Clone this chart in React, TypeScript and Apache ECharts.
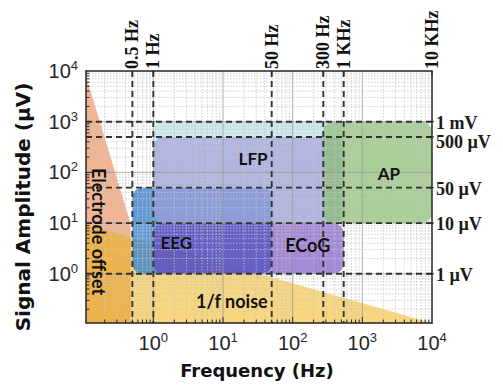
import { useEffect, useRef } from "react";
import * as echarts from "echarts";

// axis ranges (Hz / µV)
const X_MIN = 0.108;
const X_MAX = 10000;
const Y_MIN = 0.107;
const Y_MAX = 10000;

// grid structure
const xDecades = [0.1, 1, 10, 100, 1000, 10000];
const yDecades = [0.1, 1, 10, 100, 1000, 10000];
const minorSteps = [2, 3, 4, 5, 6, 7, 8, 9];

// reference lines
const refFreqs = [0.5, 1, 50, 275, 540, 10000];
const refFreqLabels = ["0.5 Hz", "1 Hz", "50 Hz", "300 Hz", "1 KHz", "10 KHz"];
const refAmps = [1000, 500, 50, 10, 1];
const refAmpLabels = ["1 mV", "500 µV", "50 µV", "10 µV", "1 µV"];

// signal bands (drawn in this order)
const bandNames = ["LFP upper", "EEG", "LFP", "ECoG", "AP"];
const bandFreqFrom = [1, 0.5, 1, 1, 275];
const bandFreqTo = [540, 50, 540, 540, 10000];
const bandAmpFrom = [10, 1, 10, 1, 10];
const bandAmpTo = [1000, 50, 500, 10, 1000];
const bandColors = [
  "rgba(190,228,232,0.75)",
  "rgba(55,130,205,0.8)",
  "rgba(165,160,220,0.7)",
  "rgba(107,58,187,0.6)",
  "rgba(140,190,115,0.75)",
];

// noise areas
const offsetFreqs = [X_MIN, 0.47, 0.47, X_MIN];
const offsetAmps = [8000, 10, Y_MIN, Y_MIN];
const noiseFreqs = [X_MIN, X_MAX, X_MIN];
const noiseAmps = [9.4, Y_MIN, Y_MIN];
const areaColors = { offset: "#F1B593", noise: "#F8D680", overlap: "#EEB24A" };

// region labels
const labelTexts = ["LFP", "AP", "EEG", "ECoG", "1/f noise", "Electrode offset"];
const labelFreqs = [27, 2400, 2.14, 165, 13.4, 0.165];
const labelAmps = [192, 95, 4.05, 3.65, 0.29, 6.8];
const labelSizes = [17, 17, 17, 18, 18, 18];

const isPow10 = (v: number) => {
  const l = Math.log10(v);
  return Math.abs(l - Math.round(l)) < 1e-6;
};

function clipPolygon(subject: number[][], clip: number[][]) {
  let area = 0;
  for (let i = 0; i < clip.length; i++) {
    const p = clip[i], q = clip[(i + 1) % clip.length];
    area += p[0] * q[1] - q[0] * p[1];
  }
  const sign = area > 0 ? 1 : -1;
  let output = subject;
  for (let i = 0; i < clip.length; i++) {
    const a = clip[i], b = clip[(i + 1) % clip.length];
    const input = output;
    output = [];
    if (!input.length) break;
    const inside = (p: number[]) =>
      sign * ((b[0] - a[0]) * (p[1] - a[1]) - (b[1] - a[1]) * (p[0] - a[0])) >= 0;
    const inter = (p: number[], q: number[]) => {
      const dx1 = q[0] - p[0], dy1 = q[1] - p[1];
      const dx2 = b[0] - a[0], dy2 = b[1] - a[1];
      const den = dx1 * dy2 - dy1 * dx2;
      const t = ((a[0] - p[0]) * dy2 - (a[1] - p[1]) * dx2) / den;
      return [p[0] + t * dx1, p[1] + t * dy1];
    };
    for (let j = 0; j < input.length; j++) {
      const cur = input[j];
      const prev = input[(j + input.length - 1) % input.length];
      const cin = inside(cur), pin = inside(prev);
      if (cin) {
        if (!pin) output.push(inter(prev, cur));
        output.push(cur);
      } else if (pin) {
        output.push(inter(prev, cur));
      }
    }
  }
  return output;
}

const tickRich = {
  b: { fontSize: 20, lineHeight: 24, fontFamily: "Liberation Sans", color: "#262626" },
  s: { fontSize: 13, lineHeight: 15, verticalAlign: "top", fontFamily: "Liberation Sans", color: "#262626" },
};
const powLabel = (v: number) =>
  isPow10(v) ? `{b|10}{s|${Math.round(Math.log10(v))}}` : "";

export default function App() {
  const ref = useRef<HTMLDivElement>(null);
  useEffect(() => {
    if (!ref.current) return;
    const chart = echarts.init(ref.current, null, { renderer: "svg" });

    const renderAreas = (_p: any, api: any) => {
      const pt = (f: number, a: number) => api.coord([f, a]);
      const offset = offsetFreqs.map((f, i) => pt(f, offsetAmps[i]));
      const noise = noiseFreqs.map((f, i) => pt(f, noiseAmps[i]));
      const overlap = clipPolygon(offset, noise);
      return {
        type: "group",
        children: [
          { type: "polygon", shape: { points: noise }, style: { fill: areaColors.noise } },
          { type: "polygon", shape: { points: offset }, style: { fill: areaColors.offset } },
          { type: "polygon", shape: { points: overlap }, style: { fill: areaColors.overlap } },
        ],
      };
    };

    const renderBand = (params: any, api: any) => {
      const i = params.dataIndex;
      const p0 = api.coord([api.value(0), api.value(3)]);
      const p1 = api.coord([api.value(1), api.value(2)]);
      return {
        type: "rect",
        z2: i,
        shape: { x: p0[0], y: p0[1], width: p1[0] - p0[0], height: p1[1] - p0[1], r: 10 },
        style: { fill: bandColors[i] },
      };
    };

    const majorGrid = { stroke: "#9a9a9a", lineWidth: 0.8 };
    const minorGrid = { stroke: "#c6c6c6", lineWidth: 0.8, lineDash: [1.5, 1.5] };
    const tickStyle = { stroke: "#262626", lineWidth: 1 };

    const renderFrame = (_p: any, api: any) => {
      const [xl, yb] = api.coord([X_MIN, Y_MIN]);
      const [xr, yt] = api.coord([X_MAX, Y_MAX]);
      const children: any[] = [];
      xDecades.forEach((d) => {
        [1, ...minorSteps].forEach((k) => {
          const v = d * k;
          if (v <= X_MIN * 1.0001 || v >= X_MAX * 0.9999) return;
          const x = api.coord([v, 1])[0];
          const major = k === 1;
          children.push({ type: "line", shape: { x1: x, y1: yt, x2: x, y2: yb }, style: major ? majorGrid : minorGrid });
          children.push({ type: "line", shape: { x1: x, y1: yb, x2: x, y2: yb - (major ? 6 : 3.5) }, style: tickStyle });
        });
      });
      yDecades.forEach((d) => {
        [1, ...minorSteps].forEach((k) => {
          const v = d * k;
          if (v <= Y_MIN * 1.0001 || v >= Y_MAX * 0.9999) return;
          const y = api.coord([1, v])[1];
          const major = k === 1;
          children.push({ type: "line", shape: { x1: xl, y1: y, x2: xr, y2: y }, style: major ? majorGrid : minorGrid });
          children.push({ type: "line", shape: { x1: xl, y1: y, x2: xl + (major ? 6 : 3.5), y2: y }, style: tickStyle });
        });
      });
      return { type: "group", children };
    };

    const dashStyle = { stroke: "#333333", lineWidth: 1.9, lineDash: [6, 4] };
    const renderRefs = (_p: any, api: any) => {
      const [xl, yb] = api.coord([X_MIN, Y_MIN]);
      const [xr, yt] = api.coord([X_MAX, Y_MAX]);
      const children: any[] = [];
      refFreqs.forEach((f, i) => {
        const x = api.coord([f, 1])[0];
        if (f < X_MAX) {
          children.push({ type: "line", shape: { x1: x, y1: yt, x2: x, y2: yb }, style: dashStyle });
        }
        children.push({ type: "line", shape: { x1: x, y1: yt, x2: x, y2: yt + 5 }, style: tickStyle });
        children.push({
          type: "text",
          x: x,
          y: yt - 2,
          rotation: Math.PI / 2,
          style: {
            text: refFreqLabels[i],
            fill: "#111",
            fontSize: 18,
            fontWeight: "bold",
            fontFamily: "Liberation Serif",
            align: "left",
            verticalAlign: "middle",
          },
        });
      });
      // right-side labels; push a label down if it would collide with the one above
      let prevLabelY = -Infinity;
      refAmps.forEach((a, i) => {
        const y = api.coord([1, a])[1];
        children.push({ type: "line", shape: { x1: xl, y1: y, x2: xr, y2: y }, style: dashStyle });
        children.push({ type: "line", shape: { x1: xr - 5, y1: y, x2: xr + 2, y2: y }, style: tickStyle });
        const ly = Math.max(y + 1, prevLabelY + 19);
        prevLabelY = ly;
        children.push({
          type: "text",
          x: xr + 4,
          y: ly,
          style: {
            text: refAmpLabels[i],
            fill: "#1a1a1a",
            fontSize: 18,
            fontWeight: "bold",
            fontFamily: "Liberation Serif",
            align: "left",
            verticalAlign: "middle",
          },
        });
      });
      return { type: "group", children };
    };

    const renderLabel = (params: any, api: any) => {
      const i = params.dataIndex;
      const p = api.coord([api.value(0), api.value(1)]);
      const vertical = labelTexts[i] === "Electrode offset";
      return {
        type: "text",
        x: p[0],
        y: p[1],
        rotation: vertical ? -Math.PI / 2 : 0,
        style: {
          text: labelTexts[i],
          fill: "#111",
          fontSize: labelSizes[i],
          fontWeight: "bold",
          fontFamily: "Lato",
          align: "center",
          verticalAlign: "middle",
        },
      };
    };

    const axisLineStyle = { show: true, lineStyle: { color: "#262626", width: 1.5 } };

    chart.setOption({
      animation: false,
      backgroundColor: "#ffffff",
      grid: { left: 86, top: 71, width: 346, height: 252 },
      xAxis: [
        {
          type: "log",
          logBase: 10,
          min: X_MIN,
          max: X_MAX,
          position: "bottom",
          z: 10,
          axisLine: axisLineStyle,
          axisTick: { show: false },
          splitLine: { show: false },
          axisLabel: { formatter: powLabel, rich: tickRich, margin: 8 },
        },
        {
          type: "log",
          logBase: 10,
          min: X_MIN,
          max: X_MAX,
          position: "top",
          z: 10,
          axisLine: axisLineStyle,
          axisTick: { show: false },
          splitLine: { show: false },
          axisLabel: { show: false },
        },
      ],
      yAxis: [
        {
          type: "log",
          logBase: 10,
          min: Y_MIN,
          max: Y_MAX,
          position: "left",
          z: 10,
          axisLine: axisLineStyle,
          axisTick: { show: false },
          splitLine: { show: false },
          axisLabel: { formatter: powLabel, rich: tickRich, margin: 8 },
        },
        {
          type: "log",
          logBase: 10,
          min: Y_MIN,
          max: Y_MAX,
          position: "right",
          z: 10,
          axisLine: axisLineStyle,
          axisTick: { show: false },
          splitLine: { show: false },
          axisLabel: { show: false },
        },
      ],
      graphic: [
        {
          type: "text",
          x: 257,
          y: 370,
          style: {
            text: "Frequency (Hz)",
            fill: "#111",
            fontSize: 18,
            fontWeight: "bold",
            fontFamily: "DejaVu Sans",
            align: "center",
            verticalAlign: "middle",
          },
        },
        {
          type: "text",
          x: 23,
          y: 207,
          rotation: Math.PI / 2,
          style: {
            text: "Signal Amplitude (µV)",
            fill: "#111",
            fontSize: 20,
            fontWeight: "bold",
            fontFamily: "DejaVu Sans",
            align: "center",
            verticalAlign: "middle",
          },
        },
      ],
      series: [
        { type: "custom", name: "noise areas", silent: true, z: 1, data: [[1, 1]], renderItem: renderAreas },
        {
          type: "custom",
          name: "bands",
          silent: true,
          z: 2,
          encode: { x: [0, 1], y: [2, 3] },
          data: bandNames.map((n, i) => ({ name: n, value: [bandFreqFrom[i], bandFreqTo[i], bandAmpFrom[i], bandAmpTo[i]] })),
          renderItem: renderBand,
        },
        { type: "custom", name: "grid", silent: true, z: 3, data: [[1, 1]], renderItem: renderFrame },
        { type: "custom", name: "refs", silent: true, z: 4, data: [[1, 1]], renderItem: renderRefs },
        {
          type: "custom",
          name: "labels",
          silent: true,
          z: 5,
          data: labelTexts.map((t, i) => ({ name: t, value: [labelFreqs[i], labelAmps[i]] })),
          renderItem: renderLabel,
        },
      ],
    });
    return () => chart.dispose();
  }, []);
  return (
    <div
      ref={ref}
      style={{ position: "fixed", left: 0, top: 0, width: 503, height: 386, background: "#fff" }}
    />
  );
}
